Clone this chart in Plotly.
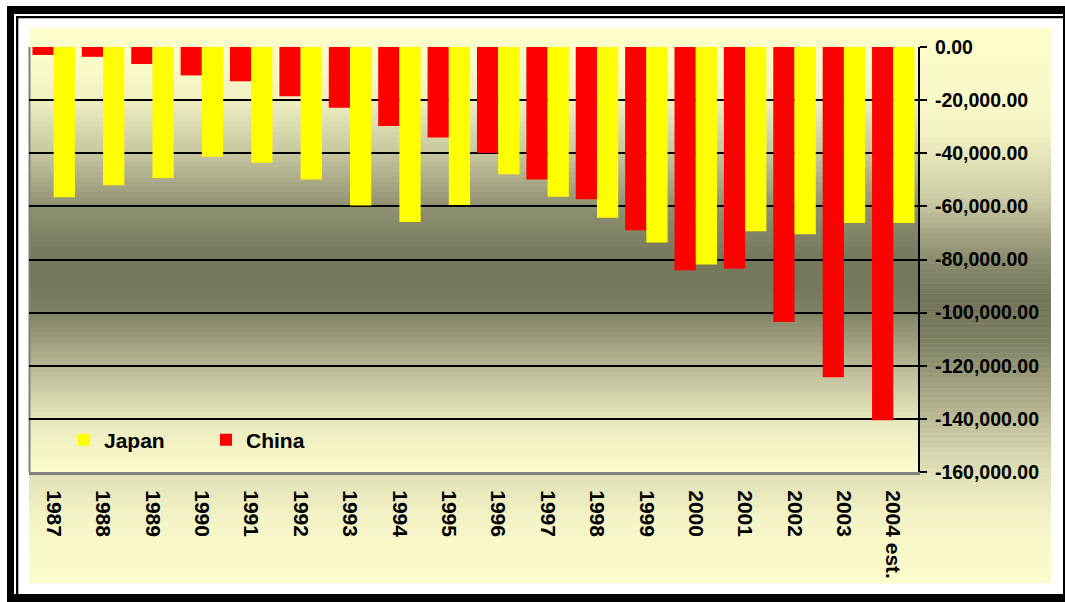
import plotly.graph_objects as go

# ---------------- data ----------------
years = ["1987", "1988", "1989", "1990", "1991", "1992", "1993", "1994", "1995",
         "1996", "1997", "1998", "1999", "2000", "2001", "2002", "2003", "2004 est."]
china = [-3000, -3700, -6400, -10700, -12900, -18500, -22900, -29700, -34100,
         -39900, -49900, -57300, -69000, -84000, -83400, -103500, -124300, -140500]
japan = [-56600, -52000, -49300, -41300, -43600, -49900, -59700, -65900, -59500,
         -47900, -56400, -64300, -73600, -81900, -69400, -70500, -66300, -66300]
y_ticks = [0, -20000, -40000, -60000, -80000, -100000, -120000, -140000, -160000]
y_tick_labels = ["0.00", "-20,000.00", "-40,000.00", "-60,000.00", "-80,000.00",
                 "-100,000.00", "-120,000.00", "-140,000.00", "-160,000.00"]

# ---------------- geometry / style ----------------
W, H = 1065, 602
L, R, T, B = 29, 918, 47, 472
PW, PH = R - L, B - T
FONT = "Liberation Sans, Arial, sans-serif"


def px_x(p):
    return (p - L) / PW


def px_y(p):
    return (B - p) / PH


def hex2rgb(h):
    h = h.lstrip("#")
    return tuple(int(h[i:i + 2], 16) for i in (0, 2, 4))


def interp(stops, y):
    for (y0, c0), (y1, c1) in zip(stops, stops[1:]):
        if y0 <= y <= y1:
            t = (y - y0) / (y1 - y0) if y1 > y0 else 0
            a, b = hex2rgb(c0), hex2rgb(c1)
            return "rgb(%d,%d,%d)" % tuple(round(a[i] + (b[i] - a[i]) * t) for i in range(3))
    return stops[-1][1]


def gradient(x0, x1, y0, y1, stops, n):
    out = []
    step = (y1 - y0) / n
    for i in range(n):
        ya = y0 + i * step
        yb = ya + step + 0.6
        col = interp(stops, ya + step / 2)
        out.append(dict(type="rect", xref="paper", yref="paper", layer="below",
                        x0=px_x(x0), x1=px_x(x1), y0=px_y(min(yb, y1)), y1=px_y(ya),
                        fillcolor=col, line=dict(width=0)))
    return out


chart_stops = [(28, "#FFFFCC"), (130, "#F4F4C6"), (200, "#CACAA4"), (260, "#8A8A6E"),
               (300, "#737359"), (340, "#7E7E62"), (400, "#ACAC8A"), (460, "#DADAB2"),
               (520, "#F4F4C6"), (583, "#FCFCCC")]
plot_stops = [(47, "#FFFFCC"), (100, "#EFEFC2"), (153, "#C6C6A0"), (207, "#909072"),
              (255, "#78785D"), (285, "#76765B"), (313, "#828266"), (366, "#B8B894"),
              (419, "#E8E8BE"), (472, "#FCFCCC")]

shapes = []
# frame
black = dict(width=0)
shapes += [
    dict(type="rect", xref="paper", yref="paper", layer="below", x0=px_x(7), x1=px_x(14),
         y0=px_y(602), y1=px_y(6), fillcolor="black", line=black),
    dict(type="rect", xref="paper", yref="paper", layer="below", x0=px_x(7), x1=px_x(1070),
         y0=px_y(14), y1=px_y(6), fillcolor="black", line=black),
    dict(type="rect", xref="paper", yref="paper", layer="below", x0=px_x(7), x1=px_x(1070),
         y0=px_y(602), y1=px_y(594), fillcolor="black", line=black),
    dict(type="rect", xref="paper", yref="paper", layer="below", x0=px_x(1063), x1=px_x(1070),
         y0=px_y(602), y1=px_y(6), fillcolor="black", line=black),
    dict(type="rect", xref="paper", yref="paper", layer="below", x0=px_x(16), x1=px_x(18.3),
         y0=px_y(602), y1=px_y(16), fillcolor="black", line=black),
    dict(type="rect", xref="paper", yref="paper", layer="below", x0=px_x(16), x1=px_x(1070),
         y0=px_y(18.3), y1=px_y(16), fillcolor="black", line=black),
]
shapes += gradient(29, 1051, 28, 583.3, chart_stops, 111)
shapes += gradient(L, R, T, B, plot_stops, 85)
# grey plot-area border (left)
shapes.append(dict(type="line", xref="paper", yref="paper", layer="below",
                   x0=px_x(29.5), x1=px_x(29.5), y0=0, y1=1,
                   line=dict(color="#808080", width=2)))

fig = go.Figure()
fig.add_trace(go.Bar(name="China", x=years, y=china, marker=dict(color="#FF0000", line=dict(width=0))))
fig.add_trace(go.Bar(name="Japan", x=years, y=japan, marker=dict(color="#FFFF00", line=dict(width=0))))

fig.update_layout(
    width=W, height=H,
    margin=dict(l=L, r=W - R, t=T, b=H - B, pad=0),
    paper_bgcolor="white",
    plot_bgcolor="rgba(0,0,0,0)",
    barmode="group", bargap=0.14, bargroupgap=0,
    font=dict(family=FONT, size=19, color="black", weight="bold"),
    shapes=shapes,
    showlegend=True,
    hovermode=False,
    legend=dict(orientation="h", x=px_x(64), xanchor="left", y=px_y(440), yanchor="middle",
                traceorder="reversed", bgcolor="rgba(0,0,0,0)", borderwidth=0,
                font=dict(family=FONT, size=21, color="black", weight="bold"),
                entrywidth=97, entrywidthmode="pixels"),
    xaxis=dict(type="category", showline=True, linecolor="#808080", linewidth=3,
               ticks="", showgrid=False, zeroline=False, tickangle=90,
               tickfont=dict(family=FONT, size=21, color="black", weight="bold"),
               ticklabelstandoff=11),
    xaxis2=dict(overlaying="x", anchor="y", side="top", type="linear", range=[-0.5, 17.5],
                showline=True, linecolor="black", linewidth=2, ticks="inside", ticklen=6,
                tickwidth=2, tickcolor="black", tick0=-0.5, dtick=1,
                showticklabels=False, showgrid=False, zeroline=False),
    yaxis=dict(side="right", range=[-160000, 0], tickvals=y_ticks, ticktext=y_tick_labels,
               showline=True, linecolor="black", linewidth=2, ticks="outside", ticklen=7,
               tickwidth=2, tickcolor="black", showgrid=True, gridcolor="black", gridwidth=2,
               zeroline=False, ticklabelstandoff=4,
               tickfont=dict(family=FONT, size=19.5, color="black", weight="bold")),
)

fig.write_html("out.html", config={"displayModeBar": False},
               post_script="document.body.style.margin='0px';")
